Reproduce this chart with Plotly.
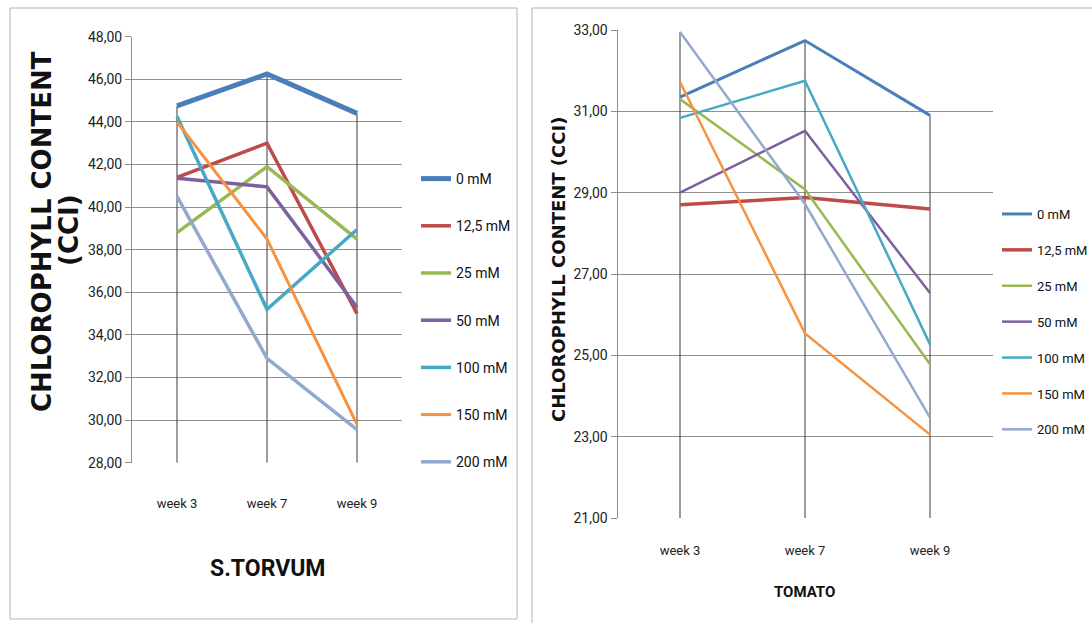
import plotly.graph_objects as go

W, H = 1092, 623

weeks = ["week 3", "week 7", "week 9"]
doses = ["0 mM", "12,5 mM", "25 mM", "50 mM", "100 mM", "150 mM", "200 mM"]
colors = ["#4A7EBB", "#BE4B48", "#98B954", "#7D60A0", "#46AAC5", "#F69240", "#93A9CF"]

# chlorophyll content (CCI) per salt dose, S. torvum
torvum_0 = [44.75, 46.25, 44.40]
torvum_12_5 = [41.40, 43.00, 35.00]
torvum_25 = [38.80, 41.90, 38.50]
torvum_50 = [41.35, 40.95, 35.30]
torvum_100 = [44.25, 35.20, 38.95]
torvum_150 = [44.00, 38.50, 29.80]
torvum_200 = [40.50, 32.90, 29.55]

# chlorophyll content (CCI) per salt dose, tomato
tomato_0 = [31.35, 32.74, 30.90]
tomato_12_5 = [28.70, 28.88, 28.60]
tomato_25 = [31.30, 29.08, 24.78]
tomato_50 = [29.00, 30.52, 26.53]
tomato_100 = [30.84, 31.75, 25.27]
tomato_150 = [31.72, 25.54, 23.05]
tomato_200 = [32.95, 28.72, 23.47]

torvum = [torvum_0, torvum_12_5, torvum_25, torvum_50, torvum_100, torvum_150, torvum_200]
tomato = [tomato_0, tomato_12_5, tomato_25, tomato_50, tomato_100, tomato_150, tomato_200]

torvum_ticks = [28, 30, 32, 34, 36, 38, 40, 42, 44, 46, 48]
tomato_ticks = [21, 23, 25, 27, 29, 31, 33]

FONT = "Roboto"
TITLE_FONT = "DejaVu Sans"


def px_x(v):
    return v / W


def px_y(v):
    return (H - v) / H


fig = go.Figure()


# drop lines from the highest value of each week down to the axis floor
def drop_lines(series, floor, xa, ya):
    xs, ys = [], []
    for i, wk in enumerate(weeks):
        top = max(s[i] for s in series)
        xs += [wk, wk, None]
        ys += [top, floor, None]
    fig.add_trace(go.Scatter(x=xs, y=ys, mode="lines", xaxis=xa, yaxis=ya,
                             line=dict(color="#3a3a3a", width=1),
                             showlegend=False, hoverinfo="skip"))


drop_lines(torvum, torvum_ticks[0], "x", "y")
drop_lines(tomato, tomato_ticks[0], "x2", "y2")

left_widths = [5, 3.5, 3.5, 3.5, 3.5, 3, 3.5]
right_widths = [3, 3.5, 2.5, 2.5, 2.5, 2.5, 2.5]

for i, name in enumerate(doses):
    fig.add_trace(go.Scatter(x=weeks, y=torvum[i], mode="lines", name=name,
                             line=dict(color=colors[i], width=left_widths[i]),
                             xaxis="x", yaxis="y", legend="legend",
                             legendgroup="a" + str(i)))
for i, name in enumerate(doses):
    fig.add_trace(go.Scatter(x=weeks, y=tomato[i], mode="lines", name=name,
                             line=dict(color=colors[i], width=right_widths[i]),
                             xaxis="x2", yaxis="y2", legend="legend2",
                             legendgroup="b" + str(i)))

grid = "#8e8e8e"

common_y = dict(showgrid=True, gridcolor=grid, gridwidth=1.3, showline=True,
                linecolor=grid, linewidth=1, ticks="outside", ticklen=6,
                tickcolor=grid, tickformat=".2f", zeroline=False,
                automargin=False,
                tickfont=dict(family=FONT, size=14, color="#222222"))
common_x = dict(type="category", range=[-0.5, 2.5], showgrid=False,
                showline=False, ticks="", zeroline=False, automargin=False,
                tickfont=dict(family=FONT, size=13, color="#222222"))

fig.update_layout(
    width=W, height=H,
    margin=dict(l=0, r=0, t=0, b=0, autoexpand=False),
    paper_bgcolor="white", plot_bgcolor="white",
    separators=", ",
    xaxis=dict(common_x, domain=[px_x(132), px_x(402)], anchor="y",
               ticklabelstandoff=31),
    yaxis=dict(common_y, domain=[px_y(462.7), px_y(36.7)], anchor="x",
               range=[28, 48], tickvals=torvum_ticks),
    xaxis2=dict(common_x, domain=[px_x(617.5), px_x(992.5)], anchor="y2",
                ticklabelstandoff=23),
    yaxis2=dict(common_y, domain=[px_y(518), px_y(30)], anchor="x2",
                range=[21, 33], tickvals=tomato_ticks),
    legend=dict(x=px_x(416), y=px_y(163), xanchor="left", yanchor="top",
                bgcolor="rgba(0,0,0,0)", tracegroupgap=26, itemwidth=30,
                font=dict(family=FONT, size=14, color="#111111")),
    legend2=dict(x=px_x(997), y=px_y(199), xanchor="left", yanchor="top",
                 bgcolor="rgba(0,0,0,0)", tracegroupgap=16, itemwidth=30,
                 font=dict(family=FONT, size=13, color="#111111")),
)

# panel frames
fig.add_shape(type="rect", xref="paper", yref="paper",
              x0=px_x(10), x1=px_x(517), y0=px_y(619), y1=px_y(8),
              line=dict(color="#b4b4b4", width=1), fillcolor="rgba(0,0,0,0)",
              layer="below")
fig.add_shape(type="rect", xref="paper", yref="paper",
              x0=px_x(532), x1=px_x(1110), y0=px_y(640), y1=px_y(8),
              line=dict(color="#b4b4b4", width=1), fillcolor="rgba(0,0,0,0)",
              layer="below")


def label(text, x, y, size, family, angle=0):
    fig.add_annotation(text=text, xref="paper", yref="paper",
                       x=px_x(x), y=px_y(y), xanchor="center", yanchor="middle",
                       textangle=angle, showarrow=False,
                       font=dict(family=family, size=size, color="#111111"))


# axis titles
label("<b>CHLOROPHYLL CONTENT</b>", 42, 232, 26, TITLE_FONT, -90)
label("<b>(CCI)</b>", 69, 230, 26, TITLE_FONT, -90)
label("<b>CHLOROPHYLL CONTENT (CCI)</b>", 558, 270, 18, TITLE_FONT, -90)
label("<b>S.TORVUM</b>", 267, 568, 23, FONT)
label("<b>TOMATO</b>", 804, 592, 15, FONT)

fig.write_html("out.html")
